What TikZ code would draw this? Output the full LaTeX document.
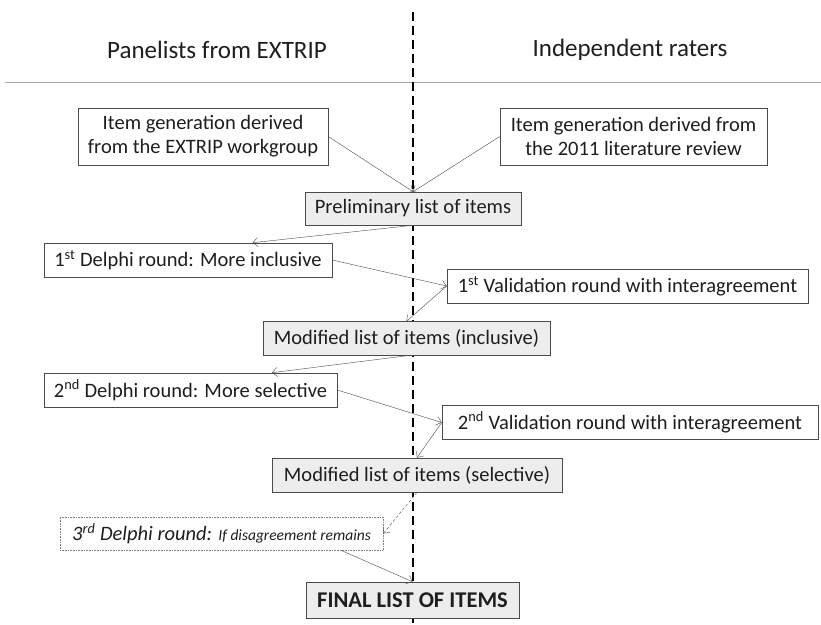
\documentclass[tikz,border=0pt]{standalone}
\usepackage{fontspec}
\setmainfont{Carlito}
\usetikzlibrary{arrows.meta}

\definecolor{boxline}{HTML}{4A4A4A}
\definecolor{boxfill}{HTML}{EDEDED}
\definecolor{ink}{HTML}{1E1E1E}

\begin{document}
\begin{tikzpicture}[x=1pt,y=-1pt,font=\fontsize{20.5}{24}\selectfont,text=ink]
\useasboundingbox (0,0) rectangle (821,624);

% divider between the two groups
\draw[gray!70, thick] (5,82) -- (821,82);
\draw[black, line width=2.2pt, dash pattern=on 9pt off 5pt] (413,12) -- (413,624);

\node (hdrL) at (217,50) {\fontsize{25}{30}\selectfont Panelists from EXTRIP};
\node (hdrR) at (630,50) {\fontsize{25}{30}\selectfont Independent raters};

\begin{scope}[every node/.style={draw=boxline,semithick,fill=white,minimum height=34pt,inner sep=0pt,align=center}]
    \node[minimum width=250pt,minimum height=57pt] (A) at (203,136.5)
        {Item generation derived\\from the EXTRIP workgroup};
    \node[minimum width=267pt,minimum height=57pt] (B) at (633.5,136.5)
        {Item generation derived from\\the 2011 literature review};
    \node[minimum width=288pt] (D1) at (188,260)
        {1\textsuperscript{st} Delphi round: More inclusive};
    \node[minimum width=361pt] (V1) at (627.5,286)
        {1\textsuperscript{st} Validation round with interagreement};
    \node[minimum width=293pt] (D2) at (190.5,390)
        {2\textsuperscript{nd} Delphi round: More selective};
    \node[minimum width=376pt] (V2) at (630,422.5)
        {2\textsuperscript{nd} Validation round with interagreement};
\end{scope}

\begin{scope}[every node/.style={draw=boxline,semithick,fill=boxfill,minimum height=34pt,inner sep=0pt,align=center}]
    \node[minimum width=216pt,minimum height=33pt] (P) at (413,208.5) {Preliminary list of items};
    \node[minimum width=287pt] (M1) at (406.5,338.5) {Modified list of items (inclusive)};
    \node[minimum width=290pt] (M2) at (417,475) {Modified list of items (selective)};
    \node[minimum width=213pt,minimum height=36pt,font=\fontsize{22.5}{26}\selectfont\bfseries] (F) at (412.5,600)
        {FINAL LIST OF ITEMS};
\end{scope}

\node[draw=gray,densely dotted,semithick,minimum width=323pt,minimum height=33pt,inner sep=0pt] (D3) at (221.5,533.5)
    {\itshape 3\textsuperscript{rd} Delphi round: {\fontsize{15.5}{18}\selectfont If disagreement remains}};

\begin{scope}[>={Straight Barb[length=5pt,width=9pt]},
              every edge/.style={draw=boxline,thin}]
    \path [->] (A.east) edge (P.north);
    \path [->] (B.west) edge (P.north);
    \path [->] (P.south) edge (D1.15);
    \path [->] (D1.east) edge (V1.west);
    \path [->] (V1.west) edge (M1.north);
    \path [->] (M1.south) edge (D2.12);
    \path [->] (D2.east) edge (V2.west);
    \path [->] (V2.west) edge (M2.north);
    \path [->] (M2.south) edge[densely dashed] (D3.east);
    \path [->] (D3.-8) edge (F.north);
\end{scope}
\end{tikzpicture}
\end{document}
